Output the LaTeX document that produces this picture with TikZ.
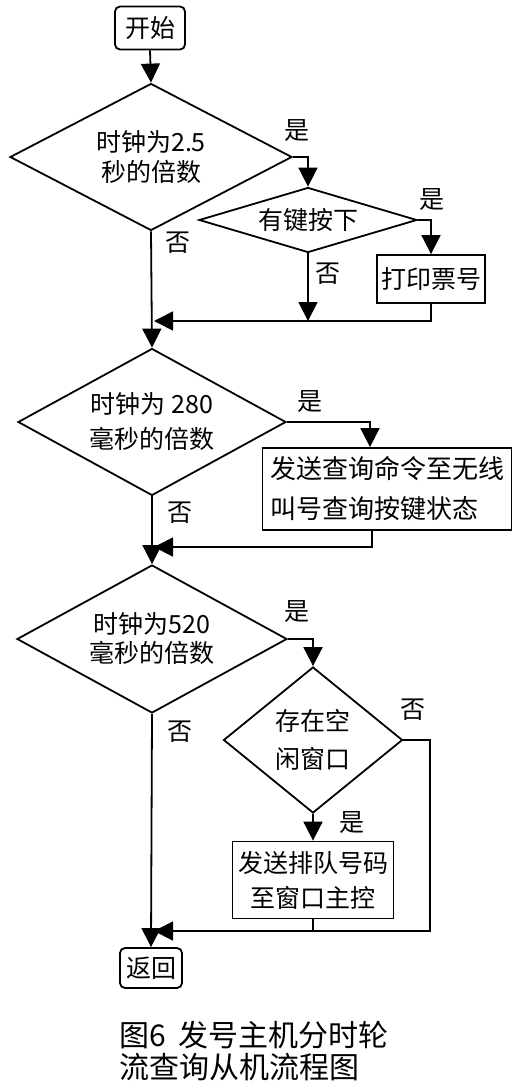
\documentclass[tikz,border=0pt]{standalone}
\usepackage{fontspec}
\setmainfont{Noto Sans CJK SC}
\usetikzlibrary{shapes.geometric,arrows.meta}
\begin{document}
\begin{tikzpicture}[x=1pt,y=-1pt,
  line width=1.8pt,
  txt/.style={font=\fontsize{25}{32}\selectfont},
  box/.style={draw, txt, inner sep=2pt},
  rbox/.style={box, rounded corners=5pt},
  dia/.style={draw, diamond, txt, inner sep=0pt, align=center},
  lbl/.style={txt, inner sep=0pt},
  arr/.style={-{Triangle[width=19pt,length=19pt]}}
]
\useasboundingbox (0,0) rectangle (526,1090);

% nodes
\node[rbox, minimum width=70pt, minimum height=43pt] (start) at (150,28) {开始};
\node[dia, shape aspect=2, minimum width=282pt, minimum height=147pt,
      font=\fontsize{25}{30}\selectfont] (d1) at (151,157) {时钟为2.5\\秒的倍数};
\node[dia, shape aspect=3.3, minimum width=218pt, minimum height=65pt] (d2) at (308,220) {有键按下};
\node[box, minimum width=108pt, minimum height=48pt] (p1) at (431,279) {打印票号};

\node[dia, shape aspect=2, minimum width=268pt, minimum height=147pt,
      font=\fontsize{25}{35}\selectfont] (d3) at (152,422) {时钟为 280\\毫秒的倍数};
\node[box, minimum width=249pt, minimum height=82pt, align=left,
      font=\fontsize{26}{40}\selectfont] (p2) at (387,489) {发送查询命令至无线\\叫号查询按键状态};

\node[dia, shape aspect=2, minimum width=270pt, minimum height=148pt,
      font=\fontsize{25}{29}\selectfont] (d4) at (152,639) {时钟为520\\毫秒的倍数};
\node[dia, shape aspect=1.2, minimum width=179pt, minimum height=146pt,
      font=\fontsize{25}{38}\selectfont] (d5) at (313,740) {存在空\\闲窗口};
\node[box, minimum width=161pt, minimum height=77pt, align=center,
      font=\fontsize{25}{35}\selectfont] (p3) at (313,880) {发送排队号码\\至窗口主控};

\node[rbox, minimum width=62pt, minimum height=40pt] (ret) at (151,968) {返回};

% merge coordinates
\coordinate (m1) at (154,321);
\coordinate (m2) at (154,547);
\coordinate (m3) at (154,931);
\coordinate (r5) at (430,931);

% labels
\node[lbl] (y1) at (297,131) {是};
\node[lbl] (n1) at (178,243) {否};
\node[lbl] (y2) at (432,200) {是};
\node[lbl] (n2) at (328,274) {否};
\node[lbl] (y3) at (310,402) {是};
\node[lbl] (n3) at (180,513) {否};
\node[lbl] (y4) at (297,612) {是};
\node[lbl] (n4) at (180,732) {否};
\node[lbl] (n5) at (413,710) {否};
\node[lbl] (y5) at (352,823) {是};

% connectors
\draw[arr] (start.south) -- (d1.north);
\draw[arr] (d1.east) -| (d2.north);
\draw[arr] (d2.east) -| (p1.north);
\draw[arr] (d2.south) -- (d2.south |- m1);
\draw[arr] (p1.south) |- (m1);
\draw[arr] (d1.south) -- (d3.north);

\draw[arr] (d3.east) -| ([xshift=-17pt]p2.north);
\draw[arr] ([xshift=-15pt]p2.south) |- (m2);
\draw[arr] (d3.south) -- (d4.north);

\draw[arr] (d4.east) -| (d5.north);
\draw[arr] (d5.south) -- (p3.north);
\draw[arr] (d5.east) -| (r5) -- (m3);
\draw (p3.south) -- (p3.south |- m3);
\draw[arr] (d4.south) -- (ret.north);

% caption
\node[anchor=west, align=left, inner sep=0pt, font=\fontsize{30}{32}\selectfont] (cap) at (119,1051)
  {图6\hspace{0.4em}发号主机分时轮\\流查询从机流程图};
\end{tikzpicture}
\end{document}
